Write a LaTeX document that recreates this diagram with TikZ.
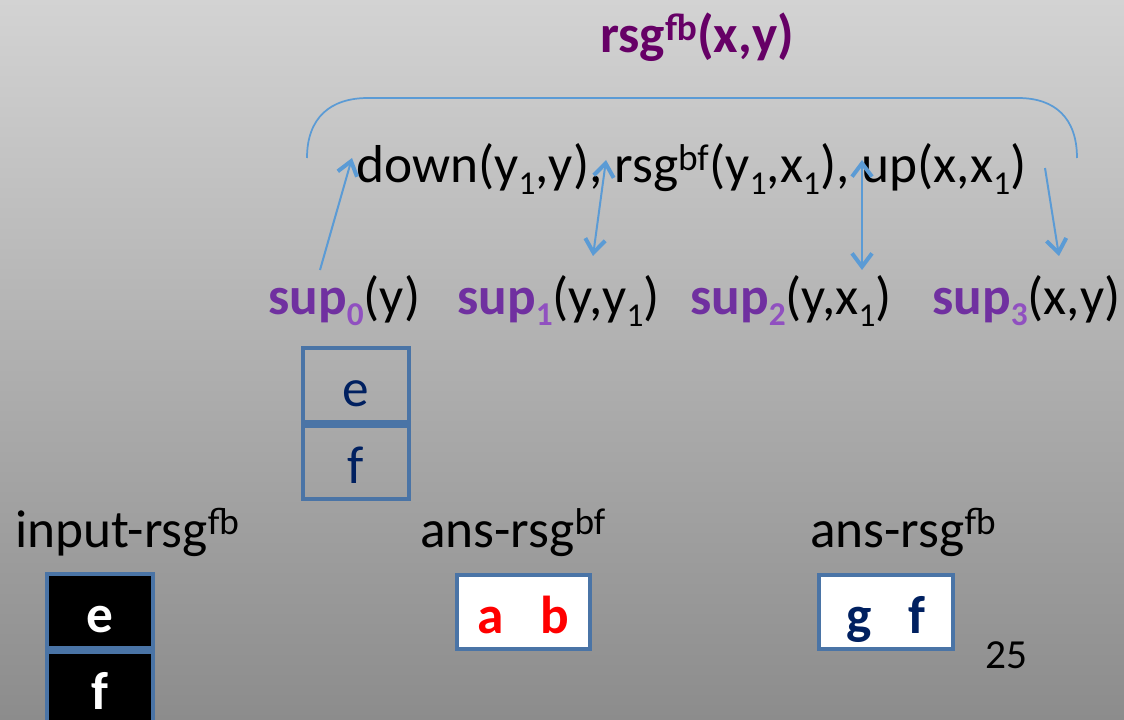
\documentclass[tikz,border=0pt]{standalone}
\usepackage{fontspec}
\setmainfont{Carlito}
\usetikzlibrary{arrows.meta}
\definecolor{bgtop}{HTML}{D3D3D3}
\definecolor{bgbot}{HTML}{8C8C8C}
\definecolor{titlepurple}{HTML}{660066}
\definecolor{suppurple}{HTML}{7030A0}
\definecolor{subpurple}{HTML}{9050C0}
\definecolor{linkblue}{HTML}{5B9BD5}
\definecolor{tableblue}{HTML}{4A74A6}
\definecolor{navy}{HTML}{002060}
\tikzset{
  big/.style={font=\fontsize{40}{48}\selectfont, inner sep=0pt},
  barb/.tip={Straight Barb[length=10pt,width=15pt,line width=3pt]},
  link/.style={draw=linkblue, line width=1.5pt, arrows={-barb}},
  dlink/.style={draw=linkblue, line width=1.5pt, arrows={barb-barb}},
  cell/.style={draw=tableblue, line width=3pt, minimum width=79.5pt, minimum height=55pt, inner sep=0pt,
    text height=32pt, text depth=0pt, font=\fontsize{40}{48}\selectfont},
  wcell/.style={draw=tableblue, line width=3pt, fill=white, minimum width=100pt, minimum height=55.5pt, inner sep=0pt,
    text height=32pt, text depth=0pt, font=\fontsize{40}{48}\selectfont\bfseries},
}
\newcommand{\upx}[1]{\textsuperscript{#1}}
\newcommand{\sbs}[1]{\raisebox{-8.5pt}{\fontsize{25}{25}\selectfont #1}}
\newcommand{\supn}[1]{\textcolor{suppurple}{\bfseries sup}\raisebox{-8pt}{\fontsize{25}{25}\selectfont\bfseries\textcolor{subpurple}{#1}}}
\begin{document}
\begin{tikzpicture}[x=0.75pt,y=-0.75pt]
\shade[top color=bgtop,bottom color=bgbot] (0,0) rectangle (1124,720);
\useasboundingbox (0,0) rectangle (1124,720);

% title
\node[big, anchor=base west, text=titlepurple, font=\fontsize{40}{48}\selectfont\bfseries] (title) at (600,53) {rsg\upx{fb}(x,y)};

% brace
\coordinate (brL) at (307,158);
\coordinate (brR) at (1077,158);
\draw[linkblue, line width=1.3pt] (brL) .. controls (307,118) and (330,98) .. (368,98) -- (1018,98) .. controls (1055,98) and (1077,118) .. (brR);

% rule body
\node[big, anchor=base west] (body) at (356,183) {down(y\sbs{1},y), rsg\upx{bf}(y\sbs{1},x\sbs{1}), up(x,x\sbs{1})};

% sup labels
\node[big, anchor=base west] (s0) at (268,315) {\supn{0}(y)};
\node[big, anchor=base west] (s1) at (457,315) {\supn{1}(y,y\sbs{1})};
\node[big, anchor=base west] (s2) at (690,315) {\supn{2}(y,x\sbs{1})};
\node[big, anchor=base west] (s3) at (932,315) {\supn{3}(x,y)};

% arrows
\coordinate (a0s) at (320,270);
\coordinate (a0e) at (352,158);
\coordinate (a1t) at (606,160);
\coordinate (a1b) at (593,256);
\coordinate (a2t) at (862,160);
\coordinate (a2b) at (862,270);
\coordinate (a3s) at (1045,168);
\coordinate (a3e) at (1059,256);
\draw[link] (a0s) -- (a0e);
\draw[dlink] (a1t) -- (a1b);
\draw[dlink] (a2t) -- (a2b);
\draw[link] (a3s) -- (a3e);

% sup0 table
\node[cell, text=navy] (t1) at (356,385) {e};
\node[cell, text=navy, anchor=north] (t2) at (t1.south) {f};

% labels
\node[big, anchor=base west] (lin) at (15,547) {input-rsg\upx{fb}};
\node[big, anchor=base west] (lbf) at (420,547) {ans-rsg\upx{bf}};
\node[big, anchor=base west] (lfb) at (810,547) {ans-rsg\upx{fb}};

% input table
\node[cell, fill=black, text=white, font=\fontsize{40}{48}\selectfont\bfseries] (in1) at (100,611) {e};
\node[cell, fill=black, text=white, font=\fontsize{40}{48}\selectfont\bfseries, anchor=north] (in2) at (in1.south) {f};

% answer tables
\node[wcell, text=red] (abf) at (523.5,612) {a\hspace{0.7em}b};
\node[wcell, text=navy] (afb) at (886,612) {g\hspace{0.7em}f};

% page number
\node[font=\fontsize{31}{36}\selectfont, inner sep=0pt, anchor=base west] (pg) at (985,668) {25};
\end{tikzpicture}
\end{document}
